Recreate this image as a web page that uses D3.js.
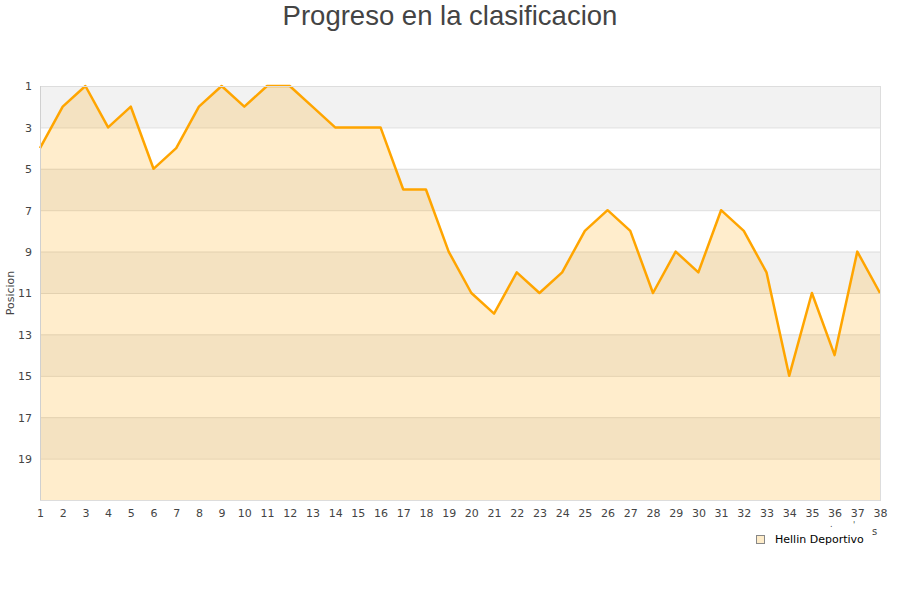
<!DOCTYPE html>
<head>
  <meta charset="utf-8" />
  <script src="https://cdn.jsdelivr.net/npm/d3@7"></script>
  <style>
    body { margin: 0; background: #fff; }
    svg { display: block; }
  </style>
</head>
<body>
  <svg width="900" height="600"></svg>
  <script>
    // jornadas 1..38 and position each round
    const jornadas = d3.range(1, 39);
    const posiciones = [4, 2, 1, 3, 2, 5, 4, 2, 1, 2, 1, 1, 2, 3, 3, 3, 6, 6, 9, 11,
                        12, 10, 11, 10, 8, 7, 8, 11, 9, 10, 7, 8, 10, 15, 11, 14, 9, 11];
    const yTicks = [1, 3, 5, 7, 9, 11, 13, 15, 17, 19];
    const equipo = "Hellin Deportivo";
    const titulo = "Progreso en la clasificacion";

    const pLeft = 40, pRight = 880, pTop = 86, pBottom = 500;
    const svg = d3.select("svg");

    const x = d3.scaleLinear().domain([1, 38]).range([pLeft, pRight]);
    const y = d3.scaleLinear().domain([1, 21]).range([pTop, pBottom]);

    // alternating bands
    const bands = [1, 5, 9, 13, 17];
    svg.append("g").selectAll("rect").data(bands).enter().append("rect")
      .attr("x", pLeft).attr("width", pRight - pLeft)
      .attr("y", d => y(d)).attr("height", d => y(d + 2) - y(d))
      .attr("fill", "#f2f2f2");

    // gridlines
    svg.append("g").selectAll("line").data(yTicks).enter().append("line")
      .attr("x1", pLeft).attr("x2", pRight)
      .attr("y1", d => y(d) + 0.5).attr("y2", d => y(d) + 0.5)
      .attr("stroke", "#dddddd");

    const data = jornadas.map((j, i) => [j, posiciones[i]]);

    const area = d3.area().x(d => x(d[0])).y0(pBottom).y1(d => y(d[1]));
    svg.append("path").datum(data).attr("d", area)
      .attr("fill", "rgba(255,165,0,0.2)");

    const line = d3.line().x(d => x(d[0])).y(d => y(d[1]));
    svg.append("path").datum(data).attr("d", line)
      .attr("fill", "none").attr("stroke", "#ffa500").attr("stroke-width", 2.5)
      .attr("stroke-linejoin", "round");

    // frame
    svg.append("rect").attr("x", pLeft + 0.5).attr("y", pTop + 0.5)
      .attr("width", pRight - pLeft).attr("height", pBottom - pTop)
      .attr("fill", "none").attr("stroke", "#dddddd");
    svg.append("line").attr("x1", pLeft + 0.5).attr("x2", pLeft + 0.5)
      .attr("y1", pTop).attr("y2", pBottom).attr("stroke", "#d0d0d0");

    // axes
    const yAxis = d3.axisLeft(y).tickValues(yTicks).tickSize(0).tickPadding(8);
    svg.append("g").attr("transform", `translate(${pLeft},0)`).call(yAxis)
      .call(g => g.select(".domain").remove())
      .selectAll("text").attr("font-family", "DejaVu Sans").attr("font-size", 11)
      .attr("fill", "#444").attr("dy", "0.35em");

    const xAxis = d3.axisBottom(x).tickValues(jornadas).tickSize(0).tickPadding(9)
      .tickFormat(d3.format("d"));
    svg.append("g").attr("transform", `translate(0,${pBottom})`).call(xAxis)
      .call(g => g.select(".domain").remove())
      .selectAll("text").attr("font-family", "DejaVu Sans").attr("font-size", 11)
      .attr("fill", "#444");

    // y title
    svg.append("text").attr("transform", "translate(14,293) rotate(-90)")
      .attr("text-anchor", "middle").attr("font-family", "DejaVu Sans")
      .attr("font-size", 11).attr("fill", "#444").text("Posicion");

    // clipped x title remnants
    svg.append("text").attr("x", 872).attr("y", 535).attr("font-family", "DejaVu Sans")
      .attr("font-size", 10).attr("fill", "#444").text("s");
    svg.append("text").attr("x", 830).attr("y", 527).attr("font-family", "DejaVu Sans")
      .attr("font-size", 8).attr("fill", "#444").text(".");
    svg.append("text").attr("x", 853).attr("y", 528).attr("font-family", "DejaVu Sans")
      .attr("font-size", 8).attr("fill", "#444").text("'");

    // title
    svg.append("text").attr("x", 450).attr("y", 25).attr("text-anchor", "middle")
      .attr("font-family", "Liberation Sans").attr("font-size", 27.5).attr("fill", "#444")
      .text(titulo);

    // legend
    svg.append("rect").attr("x", 756.5).attr("y", 535.5).attr("width", 8).attr("height", 8)
      .attr("fill", "#feecc9").attr("stroke", "#888");
    svg.append("text").attr("x", 775).attr("y", 543).attr("font-family", "DejaVu Sans")
      .attr("font-size", 11).attr("fill", "#000").text(equipo);
  </script>
</body>
